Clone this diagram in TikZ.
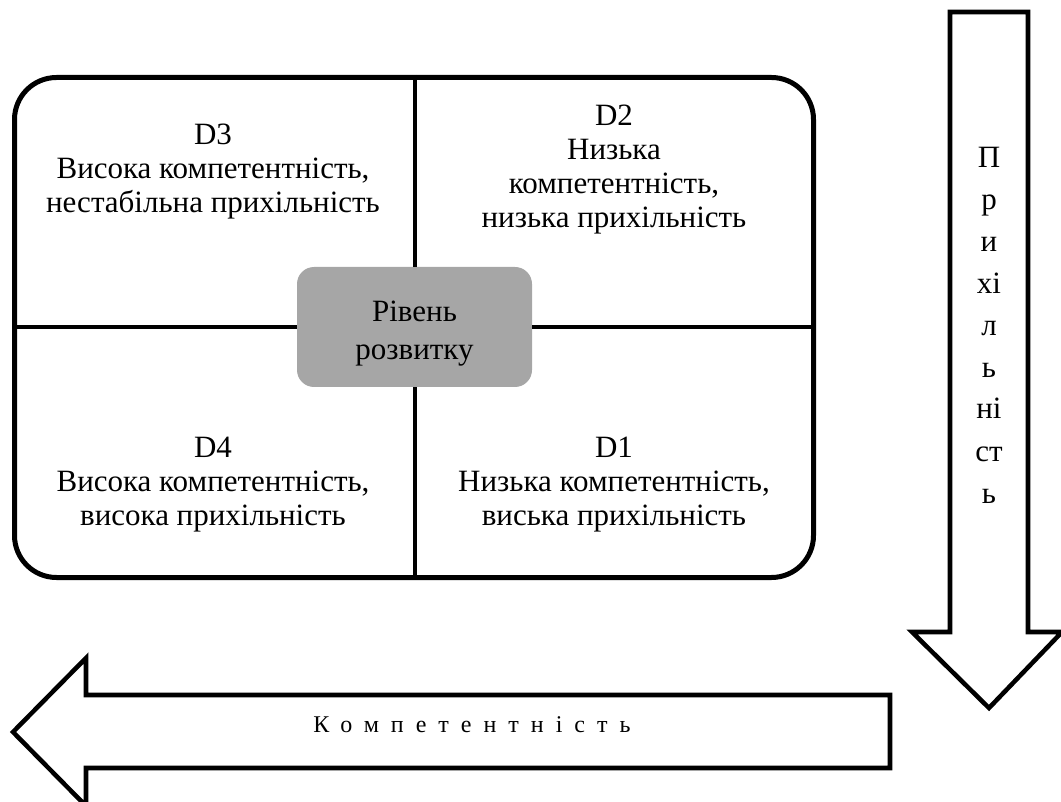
\documentclass[tikz,border=0pt]{standalone}
\usepackage{fontspec}
\setmainfont{Liberation Serif}
\newfontfamily\timesfont{Liberation Serif}
\begin{document}
\begin{tikzpicture}[x=0.75pt,y=-0.75pt,
  frame/.style={draw, line width=3.75pt, rounded corners=31.5pt,
    minimum width=599.25pt, minimum height=375pt, inner sep=0pt},
  hub/.style={fill=black!35, rounded corners=12.75pt,
    minimum width=176.25pt, minimum height=90pt, inner sep=0pt},
  hubtext/.style={align=center, anchor=base, inner sep=0pt,
    font=\timesfont\fontsize{23.25}{29}\selectfont},
  quad/.style={align=center, anchor=base, inner sep=0pt,
    font=\timesfont\fontsize{23.25}{25.5}\selectfont},
  divider/.style={line width=3pt},
  blockarrow/.style={draw, line width=3.4pt, line join=miter},
  vtext/.style={align=center, anchor=base, inner sep=0pt,
    font=\timesfont\fontsize{23.25}{31.5}\selectfont},
  htext/.style={anchor=base, inner sep=0pt,
    font=\timesfont\fontsize{18}{22}\selectfont\addfontfeatures{LetterSpace=50}}]
\useasboundingbox (0,0) rectangle (1061,802);

% outer rounded frame and the central hub
\node[frame] (frame) at (414,327.5) {};
\node[hub] (hub) at (414.5,327) {};
\node[hubtext] (hublabel) at (414.5,360) {Рівень\\розвитку};

% quadrant dividers
\draw[divider] (hub.north |- frame.north) -- (hub.north);
\draw[divider] (hub.south) -- (hub.south |- frame.south);
\draw[divider] (hub.west -| frame.west) -- (hub.west);
\draw[divider] (hub.east) -- (hub.east -| frame.east);

% quadrant labels (anchored on the baseline of their last line)
\node[quad] (d3) at (213,213) {D3\\Висока компетентність,\\нестабільна прихільність};
\node[quad] (d2) at (614,228) {D2\\Низька\\компетентність,\\низька прихільність};
\node[quad] (d4) at (213,525) {D4\\Висока компетентність,\\висока прихільність};
\node[quad] (d1) at (614,525) {D1\\Низька компетентність,\\виська прихільність};

% downward block arrow
\draw[blockarrow] (950,12) -- (1028,12) -- (1028,632) -- (1062,632)
  -- (989,708) -- (912,632) -- (950,632) -- cycle;
\node[vtext] (vlabel) at (989,503) {П\\р\\и\\хі\\л\\ь\\ні\\ст\\ь};

% leftward block arrow
\draw[blockarrow] (890,695) -- (86,695) -- (86,658) -- (13,732)
  -- (86,806) -- (86,768) -- (890,768) -- cycle;
\node[htext] (hlabel) at (472,732) {Компетентність};
\end{tikzpicture}
\end{document}
